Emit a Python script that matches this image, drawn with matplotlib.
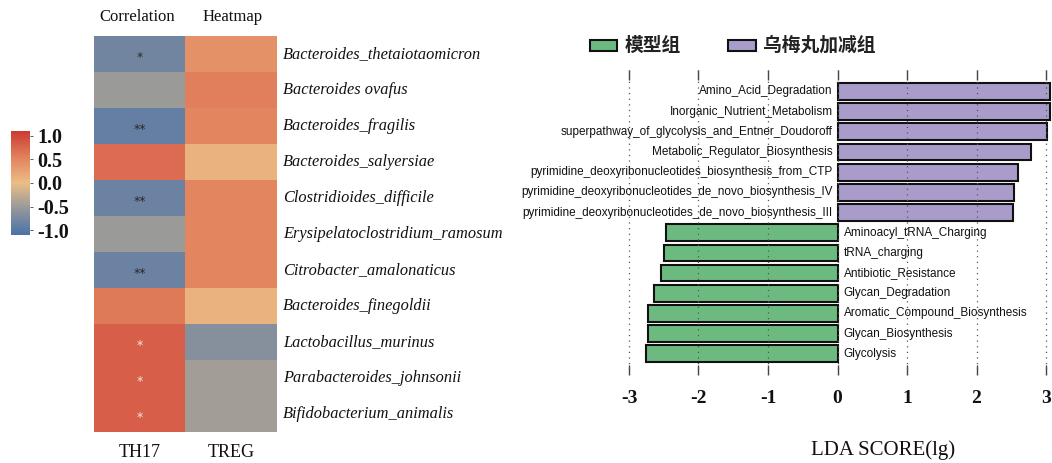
import numpy as np
import matplotlib
matplotlib.use("Agg")
import matplotlib.pyplot as plt
from matplotlib.colors import LinearSegmentedColormap, Normalize
from matplotlib.patches import Rectangle
from matplotlib.ticker import FixedLocator, FixedFormatter

# ---------------- data ----------------
species = [
    "Bacteroides_thetaiotaomicron", "Bacteroides ovafus", "Bacteroides_fragilis",
    "Bacteroides_salyersiae", "Clostridioides_difficile", "Erysipelatoclostridium_ramosum",
    "Citrobacter_amalonaticus", "Bacteroides_finegoldii", "Lactobacillus_murinus",
    "Parabacteroides_johnsonii", "Bifidobacterium_animalis",
]
th17 = [-0.8, -0.5, -0.9, 0.7, -0.85, -0.5, -0.85, 0.6, 0.8, 0.8, 0.8]
treg = [0.4, 0.55, 0.5, 0.1, 0.5, 0.5, 0.5, 0.1, -0.65, -0.45, -0.45]
th17_sig = ["*", "", "**", "", "**", "", "**", "", "*", "*", "*"]
heat_cols = ["TH17", "TREG"]
cbar_ticks = [1.0, 0.5, 0.0, -0.5, -1.0]

pathways = [
    "Amino_Acid_Degradation", "Inorganic_Nutrient_Metabolism",
    "superpathway_of_glycolysis_and_Entner_Doudoroff", "Metabolic_Regulator_Biosynthesis",
    "pyrimidine_deoxyribonucleotides_biosynthesis_from_CTP",
    "pyrimidine_deoxyribonucleotides_de_novo_biosynthesis_IV",
    "pyrimidine_deoxyribonucleotides_de_novo_biosynthesis_III",
    "Aminoacyl_tRNA_Charging", "tRNA_charging", "Antibiotic_Resistance",
    "Glycan_Degradation", "Aromatic_Compound_Biosynthesis", "Glycan_Biosynthesis",
    "Glycolysis",
]
lda = [3.06, 3.05, 3.02, 2.78, 2.59, 2.54, 2.53,
       -2.47, -2.49, -2.54, -2.64, -2.72, -2.73, -2.76]
groups = ["模型组", "乌梅丸加减组"]
lda_ticks = [-3, -2, -1, 0, 1, 2, 3]
lda_ticklabels = ["-3", "-2", "-1", "0", "1", "2", "3"]

# ---------------- style ----------------
W, H = 1052, 463
fig = plt.figure(figsize=(W / 100, H / 100), dpi=100)
serif = "Liberation Serif"
cjk = ["Noto Sans CJK SC", "DejaVu Sans"]

def fbox(x0, y0, x1, y1):
    """pixel box (top-left origin) -> figure fraction rect"""
    return [x0 / W, 1 - y1 / H, (x1 - x0) / W, (y1 - y0) / H]

cmap = LinearSegmentedColormap.from_list(
    "corr",
    [(0.0, "#4a72a8"), (0.27, "#9a9a9a"), (0.5, "#ecbd86"),
     (0.73, "#e38660"), (1.0, "#cc3a33")])
norm = Normalize(-1.1, 1.1)

# ---------------- heatmap ----------------
axh = fig.add_axes(fbox(94, 36, 277, 432))
mat = np.column_stack([th17, treg])
axh.imshow(mat, cmap=cmap, norm=norm, aspect="auto", interpolation="nearest")
for i, s in enumerate(th17_sig):
    if s:
        col = "#f3e6e0" if th17[i] > 0 else "#2b2b2b"
        axh.text(0, i + 0.1, s, ha="center", va="center", fontsize=9,
                 color=col, fontfamily="DejaVu Sans")
axh.set_xticks([])
axh.set_yticks([])
for sp in axh.spines.values():
    sp.set_visible(False)
for i, name in enumerate(species):
    axh.text(1.565, i, name, ha="left", va="center", fontsize=11.8,
             fontstyle="italic", fontfamily=serif, color="#111111")
for j, lab in enumerate(heat_cols):
    axh.text(j, 11.06, lab, ha="center", va="center", fontsize=13,
             fontfamily=serif, color="#111111")
fig.text(137 / W, 1 - 17 / H, "Correlation", ha="center", va="center",
         fontsize=12, fontfamily=serif, color="#111111")
fig.text(233 / W, 1 - 17 / H, "Heatmap", ha="center", va="center",
         fontsize=12, fontfamily=serif, color="#111111")

# ---------------- colorbar ----------------
axc = fig.add_axes(fbox(11, 131, 30, 235))
sm = plt.cm.ScalarMappable(cmap=cmap, norm=norm)
cb = fig.colorbar(sm, cax=axc, orientation="vertical")
cb.outline.set_visible(False)
cb.set_ticks(cbar_ticks)
cb.set_ticklabels([f"{t:.1f}" for t in cbar_ticks])
axc.tick_params(axis="y", length=2, width=0.6, pad=3, color="#444444")
for t in axc.get_yticklabels():
    t.set_fontfamily(serif)
    t.set_fontsize(14.5)
    t.set_fontweight("bold")
    t.set_color("#111111")

# ---------------- LDA bars ----------------
axb = fig.add_axes(fbox(623.4, 70.3, 1051.6, 375))
y = np.arange(len(pathways))
green, purple = "#6dba80", "#a99ccb"
colors = [purple if v > 0 else green for v in lda]
axb.barh(y, lda, height=0.83, color=colors, edgecolor="#111111",
         linewidth=1.5, zorder=2)
axb.set_ylim(len(pathways) - 1 + 1.05, -1.05)
axb.set_xlim(-3.08, 3.08)
for v in lda_ticks:
    axb.axvline(v, color="#555555", linestyle=(0, (1, 3.5)), linewidth=0.9,
                zorder=3)
for yi, (name, v) in enumerate(zip(pathways, lda)):
    if v > 0:
        axb.text(-0.07, yi, name, ha="right", va="center", fontsize=8.5,
                 fontfamily="Liberation Sans", color="#111111", zorder=4)
    else:
        axb.text(0.09, yi, name, ha="left", va="center", fontsize=8.5,
                 fontfamily="Liberation Sans", color="#111111", zorder=4)
for sp in axb.spines.values():
    sp.set_visible(False)
axb.set_yticks([])
axb.xaxis.set_major_locator(FixedLocator(lda_ticks))
axb.xaxis.set_major_formatter(FixedFormatter(lda_ticklabels))
axb.tick_params(axis="x", which="both", direction="in", length=7, width=1,
                color="#444444", top=True, bottom=True, pad=11)
for t in axb.get_xticklabels():
    t.set_fontfamily(serif)
    t.set_fontsize(14)
    t.set_fontweight("bold")
    t.set_color("#111111")
fig.text(883 / W, 1 - 450 / H, "LDA SCORE(lg)", ha="center", va="center",
         fontsize=15, fontfamily=serif, color="#111111")

# legend
for (x0, x1, tx), col, lab in zip([(590, 617, 625), (728, 756, 763)],
                                  [green, purple], groups):
    fig.patches.append(Rectangle((x0 / W, 1 - 51 / H), (x1 - x0) / W, 11 / H,
                                 transform=fig.transFigure, facecolor=col,
                                 edgecolor="#111111", linewidth=1.5))
    fig.text(tx / W, 1 - 45 / H, lab, ha="left", va="center", fontsize=13.5,
             fontfamily=cjk, fontweight="bold", color="#222222")

fig.savefig("out.png", dpi=100)
